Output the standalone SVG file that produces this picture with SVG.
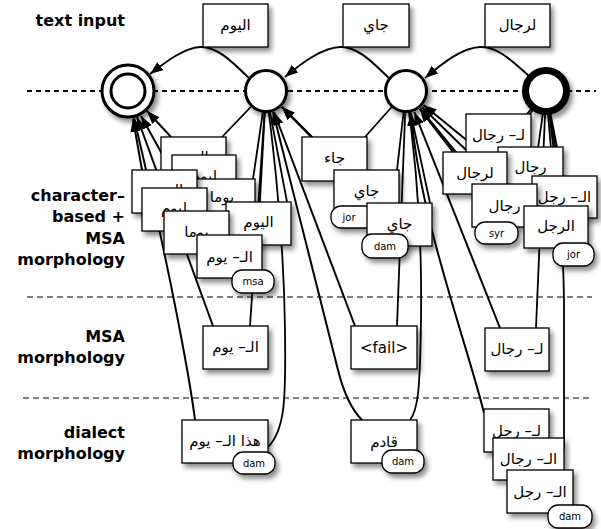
<svg xmlns="http://www.w3.org/2000/svg" width="601" height="529" viewBox="0 0 601 529">
<defs>
<filter id="sh" x="-30%" y="-30%" width="170%" height="180%">
<feDropShadow dx="3" dy="4" stdDeviation="2.5" flood-color="#000" flood-opacity="0.45"/>
</filter>
<marker id="ah" markerUnits="userSpaceOnUse" markerWidth="14" markerHeight="11" refX="13" refY="5" orient="auto"><path d="M0,0 L13,5 L0,10 z" fill="#000"/></marker>
</defs>
<style>
.lbl{font-family:"DejaVu Sans",sans-serif;font-weight:bold;font-size:16px;fill:#000;text-anchor:end}
.sep{stroke:#000;stroke-width:1.2;stroke-dasharray:6 4;fill:none}
.sep0{stroke:#000;stroke-width:2;stroke-dasharray:5 4;fill:none}
.st{fill:#fff;stroke:#000;stroke-width:3;filter:url(#sh)}
.b{fill:#fff;stroke:#000;stroke-width:1.3;filter:url(#sh)}
.ar{font-family:"DejaVu Sans",sans-serif;font-size:15px;text-anchor:middle;fill:#000}
.tg{fill:#fff;stroke:#000;stroke-width:1.3;filter:url(#sh)}
.tt{font-family:"DejaVu Sans",sans-serif;font-size:10px;text-anchor:middle;fill:#000}
.c{fill:none;stroke:#000;stroke-width:1.8}
.a{fill:none;stroke:#000;stroke-width:2;marker-end:url(#ah)}
</style>

<g id="labels">
<text class="lbl" x="125" y="26">text input</text>
<text class="lbl" x="125" y="201">character–</text>
<text class="lbl" x="125" y="222">based +</text>
<text class="lbl" x="125" y="244">MSA</text>
<text class="lbl" x="125" y="265">morphology</text>
<text class="lbl" x="125" y="342">MSA</text>
<text class="lbl" x="125" y="363">morphology</text>
<text class="lbl" x="125" y="438">dialect</text>
<text class="lbl" x="125" y="459">morphology</text>
</g>

<g id="separators">
<line class="sep0" x1="27" y1="91" x2="596" y2="91"/>
<line class="sep" x1="27" y1="297" x2="592" y2="297"/>
<line class="sep" x1="23" y1="398" x2="590" y2="398"/>
</g>

<g id="connectors">
<!-- top input arcs -->
<path class="a" d="M249,78 C235,65 218,46 200,47 C184,48 167,61 150,74"/>
<path class="a" d="M389,78 C375,65 358,46 340,47 C322,48 303,62 285,77"/>
<path class="a" d="M529,76 C514,63 498,46 480,47 C462,48 444,62 425,78"/>
<!-- node1 -> left cluster boxes -->
<line class="c" x1="266" y1="91" x2="222" y2="137"/>
<line class="c" x1="266" y1="91" x2="253" y2="179"/>
<line class="c" x1="266" y1="91" x2="287" y2="202"/>
<line class="c" x1="266" y1="91" x2="258" y2="235"/>
<line class="c" x1="266" y1="91" x2="250" y2="326"/>
<path class="c" d="M266,91 C278,180 284,250 285,330 C286,400 285,430 268,447"/>
<!-- left cluster boxes -> node0 -->
<line class="a" x1="171" y1="137" x2="147" y2="111"/>
<line class="a" x1="142" y1="170" x2="133" y2="119"/>
<line class="a" x1="207" y1="235" x2="141" y2="116"/>
<line class="a" x1="213" y1="326" x2="137" y2="117"/>
<path class="a" d="M195,420 C190,380 170,270 134,118"/>
<!-- node2 -> middle boxes -->
<line class="c" x1="406" y1="91" x2="365" y2="137"/>
<line class="c" x1="406" y1="91" x2="397" y2="170"/>
<line class="c" x1="406" y1="91" x2="430" y2="203"/>
<line class="c" x1="406" y1="91" x2="397" y2="326"/>
<path class="c" d="M406,91 C418,170 422,250 421,320 C420,390 418,410 410,420"/>
<!-- middle boxes -> node1 -->
<line class="a" x1="312" y1="137" x2="282" y2="107"/>
<line class="a" x1="344" y1="170" x2="282" y2="107"/>
<line class="a" x1="377" y1="203" x2="282" y2="107"/>
<line class="a" x1="355" y1="326" x2="274" y2="112"/>
<path class="a" d="M362,420 C350,408 343,390 338,370 L273,112"/>
<!-- node3 -> right boxes -->
<line class="c" x1="546" y1="91" x2="527" y2="114"/>
<line class="c" x1="546" y1="91" x2="557" y2="147"/>
<line class="c" x1="546" y1="91" x2="503" y2="152"/>
<line class="c" x1="546" y1="91" x2="560" y2="176"/>
<line class="c" x1="546" y1="91" x2="533" y2="184"/>
<line class="c" x1="546" y1="91" x2="556" y2="206"/>
<line class="c" x1="546" y1="91" x2="536" y2="328"/>
<path class="c" d="M546,91 C556,160 563,230 564,300 L564,440 C564,452 563,458 560,462"/>
<!-- right boxes -> node2 -->
<line class="a" x1="466" y1="150" x2="422" y2="107"/>
<line class="a" x1="453" y1="152" x2="419.7" y2="109"/>
<line class="a" x1="540" y1="200" x2="423.5" y2="105"/>
<line class="a" x1="482" y1="184" x2="420" y2="108.5"/>
<line class="a" x1="500" y1="328" x2="414.3" y2="112"/>
<path class="a" d="M484,413 C466,340 420,220 411,113"/>
</g>

<g id="n0"><circle cx="128" cy="91" r="26" class="st"/><circle cx="128" cy="91" r="17" fill="none" stroke="#000" stroke-width="3"/></g>
<g id="n1"><circle cx="266" cy="91" r="20.5" class="st"/></g>
<g id="n2"><circle cx="406" cy="91" r="20.5" class="st"/></g>
<g id="n3"><circle cx="546" cy="91" r="20.5" class="st" style="stroke-width:7"/></g>

<g id="t0"><rect class="b" x="203" y="4" width="65" height="43"/><text class="ar" x="235.5" y="30">اليوم</text></g>
<g id="t1"><rect class="b" x="343" y="4" width="66" height="43"/><text class="ar" x="376" y="30">جاي</text></g>
<g id="t2"><rect class="b" x="485" y="4" width="65" height="43"/><text class="ar" x="517.5" y="30">لرجال</text></g>

<g id="bA"><rect class="b" x="161" y="137" width="65" height="43"/><text class="ar" x="193.5" y="162">اليوم</text></g>
<g id="bB"><rect class="b" x="172" y="155" width="64" height="43"/><text class="ar" x="204" y="181">ليوم</text></g>
<g id="bD"><rect class="b" x="190" y="179" width="65" height="43"/><text class="ar" x="222" y="202">يوما</text></g>
<g id="bC"><rect class="b" x="132" y="170" width="65" height="43"/><text class="ar" x="168" y="195">اليوم</text></g>
<g id="bE"><rect class="b" x="142" y="188" width="65" height="43"/><text class="ar" x="174" y="213">ليوم</text></g>
<g id="bF"><rect class="b" x="226" y="202" width="65" height="43"/><text class="ar" x="258.5" y="227">اليوم</text></g>
<g id="bG"><rect class="b" x="164" y="211" width="65" height="43"/><text class="ar" x="196.5" y="237">يوما</text></g>
<g id="bH"><rect class="b" x="197" y="235" width="65" height="43"/><text class="ar" x="229.5" y="262">الـ– يوم</text>
<rect class="tg" x="232" y="270" width="42" height="23" rx="10"/><text class="tt" x="253" y="285">msa</text></g>

<g id="m1"><rect class="b" x="302" y="137" width="65" height="44"/><text class="ar" x="334.5" y="163">جاء</text></g>
<g id="m2"><rect class="b" x="334" y="170" width="65" height="44"/><text class="ar" x="366.5" y="196">جاي</text>
<rect class="tg" x="331" y="206" width="44" height="22" rx="10"/><text class="tt" x="349" y="221">jor</text></g>
<g id="m3"><rect class="b" x="367" y="203" width="65" height="43"/><text class="ar" x="399.5" y="229">جاي</text>
<rect class="tg" x="362" y="234" width="46" height="24" rx="10"/><text class="tt" x="385" y="250">dam</text></g>

<g id="r1"><rect class="b" x="466" y="114" width="65" height="43"/><text class="ar" x="498.5" y="140">لـ– رجال</text></g>
<g id="r2"><rect class="b" x="498" y="147" width="65" height="43"/><text class="ar" x="530.5" y="172">رجال</text></g>
<g id="r3"><rect class="b" x="443" y="152" width="64" height="42"/><text class="ar" x="475" y="178">لرجال</text></g>
<g id="r4"><rect class="b" x="532" y="176" width="65" height="42"/><text class="ar" x="564.5" y="202">الـ– رجل</text></g>
<g id="r5"><rect class="b" x="472" y="184" width="65" height="43"/><text class="ar" x="504.5" y="211">رجال</text>
<rect class="tg" x="475" y="222" width="43" height="22" rx="10"/><text class="tt" x="496.5" y="237">syr</text></g>
<g id="r6"><rect class="b" x="524" y="206" width="64" height="42"/><text class="ar" x="556" y="231">الرجل</text>
<rect class="tg" x="553" y="243" width="41" height="23" rx="10"/><text class="tt" x="573.5" y="258">jor</text></g>

<g id="s0"><rect class="b" x="203" y="326" width="65" height="43"/><text class="ar" x="235.5" y="352">الـ– يوم</text></g>
<g id="s1"><rect class="b" x="351" y="326" width="66" height="43"/><text class="ar" x="384" y="353">&lt;fail&gt;</text></g>
<g id="s2"><rect class="b" x="485" y="328" width="64" height="43"/><text class="ar" x="517" y="354">لـ– رجال</text></g>

<g id="d0"><rect class="b" x="182" y="420" width="86" height="43"/><text class="ar" x="225" y="446">هذا الـ– يوم</text>
<rect class="tg" x="233" y="452" width="42" height="22" rx="10"/><text class="tt" x="254" y="467">dam</text></g>
<g id="d1"><rect class="b" x="351" y="420" width="66" height="43"/><text class="ar" x="384" y="447">قادم</text>
<rect class="tg" x="382" y="450" width="42" height="23" rx="10"/><text class="tt" x="403" y="465">dam</text></g>
<g id="e1"><rect class="b" x="484" y="409" width="65" height="43"/><text class="ar" x="516.5" y="436">لـ– رجل</text></g>
<g id="e2"><rect class="b" x="493" y="438" width="71" height="42"/><text class="ar" x="528.5" y="464">الـ– رجال</text></g>
<g id="e3"><rect class="b" x="507" y="470" width="66" height="43"/><text class="ar" x="540" y="497">الـ– رجل</text>
<rect class="tg" x="548" y="505" width="44" height="23" rx="10"/><text class="tt" x="570" y="520">dam</text></g>
</svg>
